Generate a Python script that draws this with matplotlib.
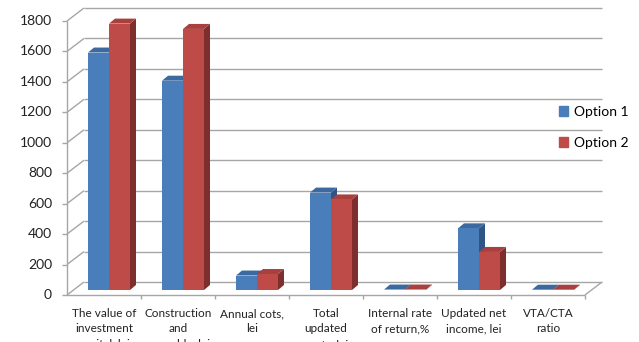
import matplotlib
matplotlib.use("Agg")
import matplotlib.pyplot as plt
from matplotlib.patches import Polygon, Patch

categories = [
    "The value of\ninvestment\ncapital, lei",
    "Construction\nand\nassembly, lei",
    "Annual cots,\nlei",
    "Total\nupdated\ncosts, lei",
    "Internal rate\nof return,%",
    "Updated net\nincome, lei",
    "VTA/CTA\nratio",
]
option1 = [1560, 1375, 95, 640, 3, 405, 2]
option2 = [1750, 1715, 105, 595, 3, 250, 2]
series_names = ["Option 1", "Option 2"]
y_ticks = [0, 200, 400, 600, 800, 1000, 1200, 1400, 1600, 1800]

FONT = "Lato"
GRID = "#a6a6a6"
FRONT_COLORS = ["#4a7ebb", "#be4b48"]
TOP_COLORS = ["#3c69a0", "#a8413e"]
SIDE_COLORS = ["#2f5585", "#7e2e2c"]

fig = plt.figure(figsize=(6.39, 3.42), dpi=100)
ax = fig.add_axes([72 / 639, 52 / 342, 518 / 639, 274 / 342])
ax.set_xlim(-0.5, len(categories) - 0.5)
ax.set_ylim(0, 1800)
ax.axis("off")

# data units per pixel, for the fake 3d offsets
XPX = len(categories) / 518
YPX = 1800 / 274
front = (-5 * XPX, -5 * YPX)
back = (12 * XPX, 8 * YPX)
depth = (6 * XPX, 5 * YPX)

x0, x1 = -0.5, len(categories) - 0.5


def line(xs, ys, off=(0, 0), **kw):
    ax.plot([x + off[0] for x in xs], [y + off[1] for y in ys], color=GRID,
            lw=1.0, clip_on=False, solid_capstyle="butt", **kw)


# back wall gridlines and side wall diagonals
for v in y_ticks:
    line([x0, x1], [v, v], back, zorder=1)
    line([x0 + front[0], x0 + back[0]], [v + front[1], v + back[1]], zorder=1)
    line([x0 + front[0] - 5 * XPX, x0 + front[0]], [v + front[1]] * 2, zorder=1)
    ax.text(x0 + front[0] - 15 * XPX, v + front[1], str(v), ha="right", va="center",
            fontsize=10, family=FONT, color="#222222")

# front axis line and floor
line([x0, x0], [0, 1800], front, zorder=1)
line([x0, x1], [0, 0], front, zorder=1)
line([x1 + front[0], x1 + back[0]], [front[1], back[1]], zorder=1)
for k in range(1, len(categories) + 1):
    xb = k - 0.5 + front[0]
    line([xb, xb], [front[1], front[1] - 4 * YPX], zorder=1)

# bars
width = 21 * XPX
for i in range(len(categories)):
    for s, vals in enumerate([option1, option2]):
        v = vals[i]
        left = i - width + s * width
        right = left + width
        dx, dy = depth
        side = Polygon([(right, 0), (right + dx, dy), (right + dx, v + dy), (right, v)],
                       closed=True, fc=SIDE_COLORS[s], ec="none", zorder=3, clip_on=False)
        top = Polygon([(left, v), (right, v), (right + dx, v + dy), (left + dx, v + dy)],
                      closed=True, fc=TOP_COLORS[s], ec="none", zorder=3, clip_on=False)
        ax.add_patch(side)
        ax.add_patch(top)
        ax.bar(left, v, width=width, align="edge", color=FRONT_COLORS[s], zorder=3,
               clip_on=False, linewidth=0)

# category labels (third lines run off the bottom, as in the original)
for i, lab in enumerate(categories):
    ax.text(i + front[0], front[1] - 13 * YPX, lab, ha="center", va="top", fontsize=8.5,
            family=FONT, color="#222222", linespacing=1.5, clip_on=False)

handles = [Patch(color=c, label=n) for c, n in zip(FRONT_COLORS, series_names)]
fig.legend(handles=handles, loc="upper left", bbox_to_anchor=(546 / 639, 1 - 93 / 342),
           frameon=False, handlelength=0.7, handleheight=0.7, handletextpad=0.4,
           labelspacing=1.4, prop={"family": FONT, "size": 10})

fig.savefig("out.png", dpi=100)
